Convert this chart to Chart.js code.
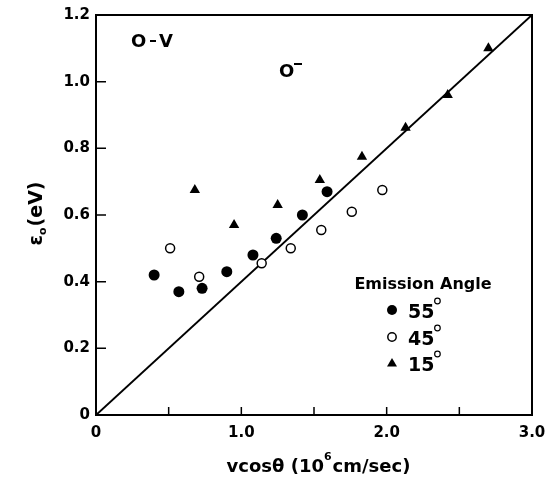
<!DOCTYPE html>
<html>
<head>
<meta charset="utf-8">
<script src="https://cdn.jsdelivr.net/npm/chart.js@4.4.1/dist/chart.umd.min.js"></script>
<style>
    html, body { margin: 0; padding: 0; background: #fff; }
    #wrap { width: 559px; height: 482px; }
</style>
</head>
<body>
<div id="wrap"><canvas id="my-chart" width="559" height="482"></canvas></div>
<script>
// values
const angle55X = [0.40, 0.57, 0.73, 0.90, 1.08, 1.24, 1.42, 1.59];
const angle55Y = [0.42, 0.37, 0.38, 0.43, 0.48, 0.53, 0.60, 0.67];
const angle45X = [0.51, 0.71, 1.14, 1.34, 1.55, 1.76, 1.97];
const angle45Y = [0.50, 0.415, 0.455, 0.50, 0.555, 0.61, 0.675];
const angle15X = [0.68, 0.95, 1.25, 1.54, 1.83, 2.13, 2.42, 2.70];
const angle15Y = [0.675, 0.57, 0.63, 0.705, 0.775, 0.862, 0.96, 1.10];
const lineX = [0, 3.0];
const lineY = [0, 1.2];
const xTickValues = [0, 0.5, 1.0, 1.5, 2.0, 2.5, 3.0];
const yTickValues = [0, 0.2, 0.4, 0.6, 0.8, 1.0, 1.2];
const legendLabels = ['55', '45', '15'];

const FONT = '"DejaVu Sans", sans-serif';

function pts(xs, ys) {
    return xs.map((x, i) => ({ x: x, y: ys[i] }));
}

// frame, inward ticks, titles and text on the plot
const decorations = {
    id: 'decorations',
    beforeDraw(chart) {
        const ctx = chart.ctx;
        ctx.save();
        ctx.fillStyle = '#fff';
        ctx.fillRect(0, 0, chart.width, chart.height);
        ctx.restore();
    },
    afterDraw(chart) {
        const { ctx, chartArea: a, scales: { x, y } } = chart;
        ctx.save();
        ctx.strokeStyle = '#000';
        ctx.lineWidth = 2;
        ctx.strokeRect(a.left, a.top, a.right - a.left, a.bottom - a.top);

        ctx.lineWidth = 1.5;
        ctx.beginPath();
        xTickValues.slice(1, -1).forEach(v => {
            const px = x.getPixelForValue(v);
            ctx.moveTo(px, a.bottom);
            ctx.lineTo(px, a.bottom - 8);
        });
        yTickValues.slice(1, -1).forEach(v => {
            const py = y.getPixelForValue(v);
            ctx.moveTo(a.left, py);
            ctx.lineTo(a.left + 10, py);
        });
        ctx.stroke();

        ctx.fillStyle = '#000';
        ctx.textBaseline = 'alphabetic';

        // x axis title
        const p1 = 'vcos\u03b8 (10', p2 = 'cm/sec)';
        ctx.font = 'bold 18px ' + FONT;
        const w1 = ctx.measureText(p1).width;
        ctx.font = 'bold 11px ' + FONT;
        const w6 = ctx.measureText('6').width;
        ctx.font = 'bold 18px ' + FONT;
        const w2 = ctx.measureText(p2).width;
        let tx = 318 - (w1 + w6 + w2) / 2;
        ctx.textAlign = 'left';
        ctx.fillText(p1, tx, 472);
        ctx.font = 'bold 11px ' + FONT;
        ctx.fillText('6', tx + w1, 460);
        ctx.font = 'bold 18px ' + FONT;
        ctx.fillText(p2, tx + w1 + w6 + 1, 472);

        // y axis title
        ctx.save();
        ctx.translate(42, 214);
        ctx.rotate(-Math.PI / 2);
        ctx.font = 'bold 19px ' + FONT;
        const e = '\u03b5';
        const we = ctx.measureText(e).width;
        ctx.font = 'bold 11px ' + FONT;
        const wo = ctx.measureText('o').width;
        ctx.font = 'bold 19px ' + FONT;
        const wr = ctx.measureText('(eV)').width;
        let sx = -(we + wo + wr) / 2;
        ctx.fillText(e, sx, 0);
        ctx.font = 'bold 11px ' + FONT;
        ctx.fillText('o', sx + we, 4);
        ctx.font = 'bold 19px ' + FONT;
        ctx.fillText('(eV)', sx + we + wo + 1, 0);
        ctx.restore();

        // annotations
        ctx.font = 'bold 18px ' + FONT;
        ctx.fillText('O', 131, 47);
        ctx.fillRect(150, 40, 6, 2);
        ctx.fillText('V', 159, 47);
        ctx.fillText('O', 279, 77);
        ctx.fillRect(294, 63, 8, 2);

        // legend
        ctx.font = 'bold 16px ' + FONT;
        ctx.textAlign = 'center';
        ctx.fillText('Emission Angle', 423, 289);
        const rows = [310, 337, 363];
        rows.forEach((ry, i) => {
            ctx.lineWidth = 1.5;
            if (i === 0) {
                ctx.beginPath();
                ctx.arc(392, ry, 5, 0, Math.PI * 2);
                ctx.fill();
            } else if (i === 1) {
                ctx.beginPath();
                ctx.arc(392, ry, 4.2, 0, Math.PI * 2);
                ctx.stroke();
            } else {
                ctx.beginPath();
                ctx.moveTo(392, ry - 5);
                ctx.lineTo(397, ry + 3.5);
                ctx.lineTo(387, ry + 3.5);
                ctx.closePath();
                ctx.fill();
            }
            ctx.font = 'bold 19px ' + FONT;
            ctx.textAlign = 'left';
            ctx.fillText(legendLabels[i], 408, ry + 8);
            const wl = ctx.measureText(legendLabels[i]).width;
            ctx.lineWidth = 1.2;
            ctx.beginPath();
            ctx.arc(408 + wl + 3, ry - 9, 2.8, 0, Math.PI * 2);
            ctx.stroke();
        });
        ctx.restore();
    }
};

const ctx = document.getElementById('my-chart').getContext('2d');
new Chart(ctx, {
    type: 'scatter',
    data: {
        datasets: [
            {
                label: '55',
                data: pts(angle55X, angle55Y),
                pointStyle: 'circle',
                pointRadius: 5.5,
                backgroundColor: '#000',
                borderColor: '#000',
                borderWidth: 0
            },
            {
                label: '45',
                data: pts(angle45X, angle45Y),
                pointStyle: 'circle',
                pointRadius: 4.5,
                backgroundColor: '#fff',
                borderColor: '#000',
                borderWidth: 1.5
            },
            {
                label: '15',
                data: pts(angle15X, angle15Y),
                pointStyle: 'triangle',
                pointRadius: 6,
                backgroundColor: '#000',
                borderColor: '#000',
                borderWidth: 0
            },
            {
                type: 'line',
                label: 'line',
                data: pts(lineX, lineY),
                borderColor: '#000',
                borderWidth: 2,
                pointRadius: 0,
                fill: false,
                order: 5
            }
        ]
    },
    options: {
        responsive: false,
        animation: false,
        layout: { padding: { left: 0, top: 8, right: 27, bottom: 0 } },
        scales: {
            x: {
                type: 'linear',
                min: 0,
                max: 3.0,
                afterFit: s => { s.height = 67; },
                afterBuildTicks: s => { s.ticks = xTickValues.map(v => ({ value: v })); },
                grid: { display: false, drawTicks: false },
                border: { display: false },
                ticks: {
                    autoSkip: false,
                    maxRotation: 0,
                    padding: 9,
                    color: '#000',
                    font: { family: FONT, weight: 'bold', size: 15 },
                    callback: v => (v === 0 ? '0' : (v % 1 === 0 ? v.toFixed(1) : ''))
                }
            },
            y: {
                type: 'linear',
                min: 0,
                max: 1.2,
                afterFit: s => { s.width = 96; },
                afterBuildTicks: s => { s.ticks = yTickValues.map(v => ({ value: v })); },
                grid: { display: false, drawTicks: false },
                border: { display: false },
                ticks: {
                    autoSkip: false,
                    padding: 6,
                    color: '#000',
                    font: { family: FONT, weight: 'bold', size: 15 },
                    callback: v => (v === 0 ? '0' : v.toFixed(1))
                }
            }
        },
        plugins: {
            legend: { display: false },
            tooltip: { enabled: false }
        }
    },
    plugins: [decorations]
});
</script>
</body>
</html>
